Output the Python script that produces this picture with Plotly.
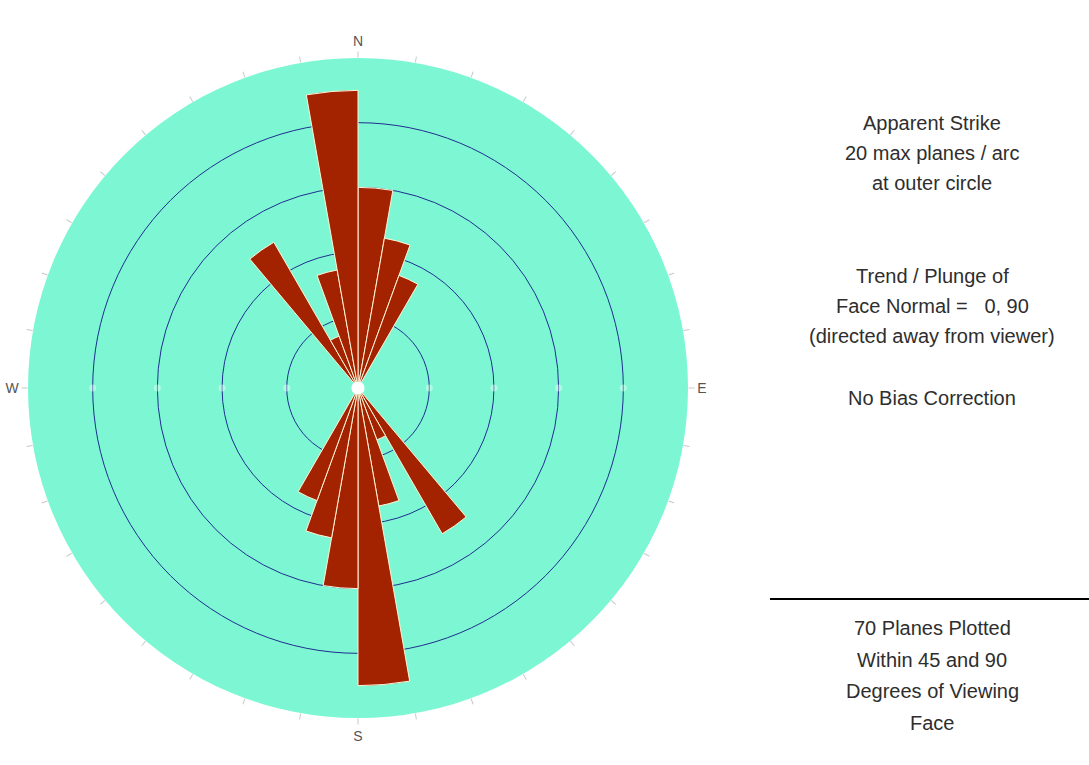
import plotly.graph_objects as go

# Rose diagram data: 10-degree strike bins (bin centre, degrees) and plane counts
bin_centers = [5, 15, 25, 35, 45, 55, 65, 75, 85, 95, 105, 115, 125, 135, 145, 155, 165, 175,
               185, 195, 205, 215, 225, 235, 245, 255, 265, 275, 285, 295, 305, 315, 325, 335, 345, 355]
counts = [12, 9, 7, 0, 0, 0, 0, 0, 0, 0, 0, 0, 0, 0, 10, 3, 7, 18,
          12, 9, 7, 0, 0, 0, 0, 0, 0, 0, 0, 0, 0, 0, 10, 3, 7, 18]
bin_width = 10
max_count = 20
ring_values = [4, 8, 12, 16]

tick_angles = list(range(0, 360, 10))
tick_text = [{0: "N", 90: "E", 180: "S", 270: "W"}.get(a, "") for a in tick_angles]

info_top = ["Apparent Strike", "20 max planes / arc", "at outer circle"]
info_mid = ["Trend / Plunge of", "Face Normal =   0, 90", "(directed away from viewer)"]
info_bias = ["No Bias Correction"]
info_bottom = ["70 Planes Plotted", "Within 45 and 90", "Degrees of Viewing", "Face"]

W, H = 1089, 765
cx, cy, R = 358, 388, 330

fig = go.Figure()
fig.add_trace(go.Barpolar(
    r=counts, theta=bin_centers, width=[bin_width] * len(bin_centers),
    marker=dict(color="#A32300", line=dict(color="#FFF3D6", width=1)),
    hoverinfo="r+theta", showlegend=False,
))
# faint white marks where the rings cross the E-W axis
fig.add_trace(go.Scatterpolar(
    r=ring_values * 2, theta=[90] * len(ring_values) + [270] * len(ring_values),
    mode="markers", marker=dict(color="white", size=7, opacity=0.4),
    hoverinfo="skip", showlegend=False,
))

fig.update_layout(
    width=W, height=H,
    margin=dict(l=0, r=0, t=0, b=0),
    paper_bgcolor="white",
    font=dict(family="Liberation Sans, Arial, sans-serif", size=20, color="#2E2E2E"),
    polar=dict(
        domain=dict(x=[(cx - R) / W, (cx + R) / W], y=[(H - cy - R) / H, (H - cy + R) / H]),
        bgcolor="#7DF7D3",
        hole=0.02,
        radialaxis=dict(range=[0, max_count], tickvals=ring_values, showticklabels=False,
                        ticks="", showline=False, gridcolor="#1F2E8F", gridwidth=1.2),
        angularaxis=dict(rotation=90, direction="clockwise", tickmode="array",
                         tickvals=tick_angles, ticktext=tick_text, showgrid=False,
                         showline=False, ticks="outside", ticklen=6, tickcolor="#C8C8C8",
                         tickfont=dict(size=14, color="#555555")),
    ),
)

def add_lines(lines, y0, step=30):
    for i, t in enumerate(lines):
        fig.add_annotation(x=932 / W, y=1 - (y0 + i * step) / H, xref="paper", yref="paper",
                           text=t, showarrow=False, xanchor="center", yanchor="middle",
                           font=dict(size=20, color="#2E2E2E"))

add_lines(info_top, 123, 30)
add_lines(info_mid, 276, 30)
add_lines(info_bias, 398)
add_lines(info_bottom, 628, 31.5)

fig.add_shape(type="line", xref="paper", yref="paper", x0=770 / W, x1=1.0,
              y0=1 - 599 / H, y1=1 - 599 / H, line=dict(color="black", width=2))

fig.write_html("out.html")
